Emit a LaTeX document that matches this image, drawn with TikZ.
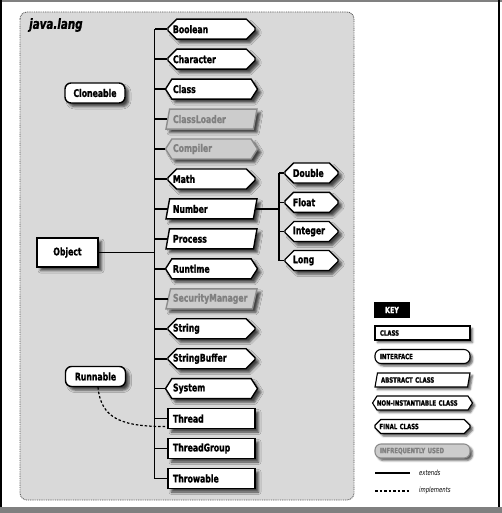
\documentclass[tikz,border=0pt]{standalone}
\usepackage{fontspec}
\newfontfamily\lbl{DejaVu Sans Condensed}[FakeStretch=0.82, BoldFeatures={FakeBold=1.2}, BoldItalicFeatures={FakeBold=1.2}]
\usetikzlibrary{shapes.geometric,shapes.misc,shapes.symbols,shadows,shadows.blur}
\definecolor{bg}{gray}{0.85}
\definecolor{infill}{gray}{0.80}
\definecolor{inline}{gray}{0.55}
\definecolor{intext}{gray}{0.50}
\tikzset{
  shad/.style={blur shadow={shadow xshift=3.5pt, shadow yshift=-3.5pt, shadow blur radius=2.5pt, shadow opacity=70}},
  kshad/.style={blur shadow={shadow xshift=2.5pt, shadow yshift=-2.5pt, shadow blur radius=2pt, shadow opacity=65}},
  boxbase/.style={draw=black, line width=1.4pt, fill=white, shad, font=\lbl\fontsize{10.5}{11}\selectfont\bfseries, inner xsep=0pt, inner ysep=0pt, minimum height=20pt},
  col/.style={boxbase, text width=77pt, align=left},
  clsbox/.style={col, rectangle, minimum width=87pt},
  finbox/.style={col, chamfered rectangle, chamfered rectangle xsep=4.5pt, chamfered rectangle ysep=4.5pt, minimum width=87pt},
  ninbox/.style={col, signal, signal to=west and east, signal pointer angle=115, minimum width=92pt},
  absbox/.style={col, trapezium, trapezium left angle=66, trapezium right angle=114, trapezium stretches body, minimum width=91pt},
  intbox/.style={boxbase, rectangle, rounded corners=6pt, minimum width=60pt, align=center},
  objbox/.style={boxbase, rectangle, minimum width=61pt, minimum height=29pt, align=center},
  finsm/.style={finbox, minimum width=53pt, text width=37pt},
  infreq/.style={fill=infill, draw=inline, text=intext},
  keybase/.style={draw=black, line width=1.1pt, fill=white, kshad, font=\lbl\fontsize{7.3}{8}\selectfont\bfseries, inner xsep=0pt, inner ysep=0pt, minimum height=14pt, text width=85pt, align=left},
  kcls/.style={keybase, rectangle, minimum width=95pt},
  kint/.style={keybase, rectangle, rounded corners=6pt, minimum width=95pt},
  kabs/.style={keybase, trapezium, trapezium left angle=66, trapezium right angle=114, trapezium stretches body, minimum width=95pt, text width=83pt},
  knin/.style={keybase, signal, signal to=west and east, signal pointer angle=115, minimum width=97pt, text width=91pt},
  kfin/.style={keybase, chamfered rectangle, chamfered rectangle xsep=3pt, chamfered rectangle ysep=3pt, minimum width=95pt, text width=86pt},
  ext/.style={draw=black, line width=1.6pt},
  impl/.style={draw=black, line width=1.2pt, dash pattern=on 2.5pt off 2pt},
  region/.style={fill=bg, draw=black!65, line width=0.9pt, dash pattern=on 0.9pt off 0.9pt, rounded corners=7pt},
  legtext/.style={anchor=west, font=\lbl\fontsize{7.2}{8}\selectfont\itshape, inner sep=0pt}
}
\begin{document}
\begin{tikzpicture}[x=1pt, y=-1pt]
\useasboundingbox (0,0) rectangle (502,513);
% outer frame
\fill[black!50] (0,0) rectangle (502,2);
\fill[black] (0,0) rectangle (1.5,507);
\fill[black] (498,0) rectangle (500.2,507);
\fill[black!50] (0,507) rectangle (502,513);
% package region
\path[region] (20,12) rectangle (354,500);
\node[anchor=west, font=\lbl\fontsize{14}{15}\selectfont\bfseries\itshape, inner sep=0pt] (pkg) at (29,25) {java.lang};

% trunk coordinates
\coordinate (tt) at (154.5,29.2);
\coordinate (tb) at (154.5,478.5);
\coordinate (nt) at (279,173);
\coordinate (nb) at (279,260.5);

% column classes
\node[finbox] (boolean) at (211.5,29.2) {Boolean};
\node[finbox] (character) at (211.5,59.2) {Character};
\node[ninbox] (class) at (211.5,89.1) {Class};
\node[absbox, infreq] (classloader) at (211.5,119.1) {ClassLoader};
\node[ninbox, infreq] (compiler) at (211.5,149.0) {Compiler};
\node[finbox] (math) at (211.5,179.0) {Math};
\node[absbox] (number) at (211.5,208.9) {Number};
\node[absbox] (process) at (211.5,238.9) {Process};
\node[ninbox] (runtime) at (211.5,268.8) {Runtime};
\node[absbox, infreq] (secman) at (211.5,298.8) {SecurityManager};
\node[finbox] (string) at (211.5,328.7) {String};
\node[finbox] (strbuf) at (211.5,358.7) {StringBuffer};
\node[ninbox] (system) at (211.5,388.6) {System};
\node[clsbox] (thread) at (211.5,418.6) {Thread};
\node[clsbox] (thgroup) at (211.5,448.5) {ThreadGroup};
\node[clsbox] (throwable) at (211.5,478.5) {Throwable};

% number subclasses
\node[finsm] (double) at (311.5,173) {Double};
\node[finsm] (float) at (311.5,202.3) {Float};
\node[finsm] (integer) at (311.5,231.5) {Integer};
\node[finsm] (long) at (311.5,260.5) {Long};

% left nodes
\node[intbox] (cloneable) at (95,93) {Cloneable};
\node[objbox] (object) at (67.5,252.5) {Object};
\node[intbox] (runnable) at (95.5,376.5) {Runnable};

% connectors
\draw[ext] (tt) -- (tb);
\foreach \n in {boolean,character,class,classloader,compiler,math,number,process,runtime,secman,string,strbuf,system,thread,thgroup,throwable}
  \draw[ext] (\n.west) -- (\n.west -| tt);
\draw[ext] (object.east) -- (object.east -| tt);
\draw[ext] (nt) -- (nb);
\draw[ext] (number.east) -- (number.east -| nt);
\foreach \n in {double,float,integer,long}
  \draw[ext] (\n.west) -- (\n.west -| nt);
\draw[impl] ([xshift=2.5pt]runnable.south) .. controls +(3,32) and +(-45,0) .. ([yshift=-8pt]thread.west);

% key
\node[fill=black, text=white, font=\lbl\fontsize{8.5}{9}\selectfont\bfseries, minimum width=36pt, minimum height=16pt, inner sep=0pt] (keyh) at (392,310) {KEY};
\node[kcls] (k1) at (422.5,333) {CLASS};
\node[kint] (k2) at (422.5,356.5) {INTERFACE};
\node[kabs] (k3) at (422.5,380) {ABSTRACT CLASS};
\node[knin] (k4) at (422.5,403) {NON-INSTANTIABLE CLASS};
\node[kfin] (k5) at (422.5,426.5) {FINAL CLASS};
\node[kint, infreq] (k6) at (422.5,451) {INFREQUENTLY USED};
\coordinate (e1) at (375,473);
\coordinate (e2) at (410,473);
\coordinate (i1) at (375,491);
\coordinate (i2) at (410,491);
\draw[line width=1.2pt] (e1) -- (e2);
\draw[line width=1.2pt, dash pattern=on 2.5pt off 2pt] (i1) -- (i2);
\node[legtext] (extl) at (419,473) {extends};
\node[legtext] (impll) at (419,491) {implements};
\end{tikzpicture}
\end{document}
